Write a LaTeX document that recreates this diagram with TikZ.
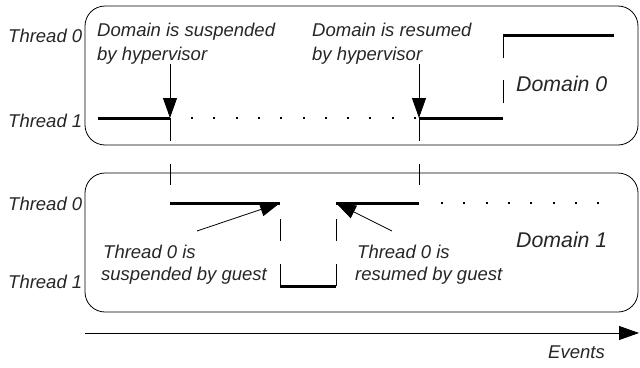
\documentclass[tikz,border=0pt]{standalone}
\usepackage{fontspec}
\setmainfont{Liberation Sans}
\usetikzlibrary{arrows.meta}
\begin{document}
\begin{tikzpicture}[x=1pt,y=-1pt,
  lbl/.style={anchor=base west,inner sep=0pt,font=\fontsize{18.5}{20}\selectfont\itshape,text=black!85},
  biglbl/.style={lbl,font=\fontsize{21.3}{24}\selectfont\itshape},
  domainbox/.style={draw,line width=0.8pt,rounded corners=20pt},
  thin/.style={line width=0.8pt},
  thick/.style={line width=3pt},
  dotline/.style={line width=2pt,dash pattern=on 2pt off 20.3pt},
  gapline/.style={line width=0.8pt,dash pattern=on 22.5pt off 22.5pt},
  evarrow/.style={line width=0.8pt,-{Triangle[length=20pt,width=14pt]}}
]
\useasboundingbox (0,0) rectangle (640,367);
% boxes
\draw[domainbox] (85,6) rectangle (638,145);
\draw[domainbox] (85,173) rectangle (638,312);
% thread labels
\node[lbl] (t0a) at (8,42) {Thread 0};
\node[lbl] (t1a) at (8,127) {Thread 1};
\node[lbl] (t0b) at (8,210) {Thread 0};
\node[lbl] (t1b) at (8,288) {Thread 1};
% annotations
\node[lbl] (sus1) at (97,36) {Domain is suspended};
\node[lbl] (sus2) at (97,60) {by hypervisor};
\node[lbl] (res1) at (312,36) {Domain is resumed};
\node[lbl] (res2) at (312,60) {by hypervisor};
\node[biglbl] (d0) at (516,91) {Domain 0};
\node[biglbl] (d1) at (516,247) {Domain 1};
\node[lbl] (gs1) at (103,258) {Thread 0 is};
\node[lbl] (gs2) at (101,280) {suspended by guest};
\node[lbl] (gr1) at (357,258) {Thread 0 is};
\node[lbl] (gr2) at (355,280) {resumed by guest};
\node[lbl] (ev) at (548,358) {Events};
% coordinates (top domain)
\coordinate (a0) at (98,118);
\coordinate (a1) at (170,118);
\coordinate (a1top) at (170,64);
\coordinate (a1bot) at (170,141);
\coordinate (a1t) at (170,164);
\coordinate (a1b) at (170,185);
\coordinate (b1) at (419,118);
\coordinate (b1top) at (419,64);
\coordinate (b1bot) at (419,141);
\coordinate (b1t) at (419,164);
\coordinate (b1b) at (419,185);
\coordinate (c1) at (503,118);
\coordinate (c2) at (503,35);
\coordinate (c3) at (614,35);
\coordinate (dA) at (191,118);
\coordinate (dB) at (416,118);
% coordinates (bottom domain)
\coordinate (e0) at (170,203);
\coordinate (e1) at (280,203);
\coordinate (e2) at (280,286);
\coordinate (e3) at (336,286);
\coordinate (e4) at (336,203);
\coordinate (e5) at (419,203);
\coordinate (fA) at (441,203);
\coordinate (fB) at (610,203);
\coordinate (gsA) at (197,231);
\coordinate (grA) at (392,231);
\coordinate (ax0) at (85,333);
\coordinate (ax1) at (639,333);
% top domain timeline
\draw[thick] (a0) -- (a1);
\draw[dotline] (dA) -- (dB);
\draw[thick] (b1) -- (c1);
\draw[gapline] (c2) -- (c1);
\draw[thick] (c2) -- (c3);
\draw[evarrow] (a1top) -- (a1);
\draw[thin] (a1) -- (a1bot);
\draw[thin] (a1t) -- (a1b);
\draw[evarrow] (b1top) -- (b1);
\draw[thin] (b1) -- (b1bot);
\draw[thin] (b1t) -- (b1b);
% bottom domain timeline
\draw[thick] (e0) -- (e1);
\draw[gapline] (e2) -- (e1);
\draw[thick] (e2) -- (e3);
\draw[gapline] (e3) -- (e4);
\draw[thick] (e4) -- (e5);
\draw[dotline] (fA) -- (fB);
\draw[evarrow] (gsA) -- (e1);
\draw[evarrow] (grA) -- (e4);
% events axis
\draw[evarrow] (ax0) -- (ax1);
\end{tikzpicture}
\end{document}
